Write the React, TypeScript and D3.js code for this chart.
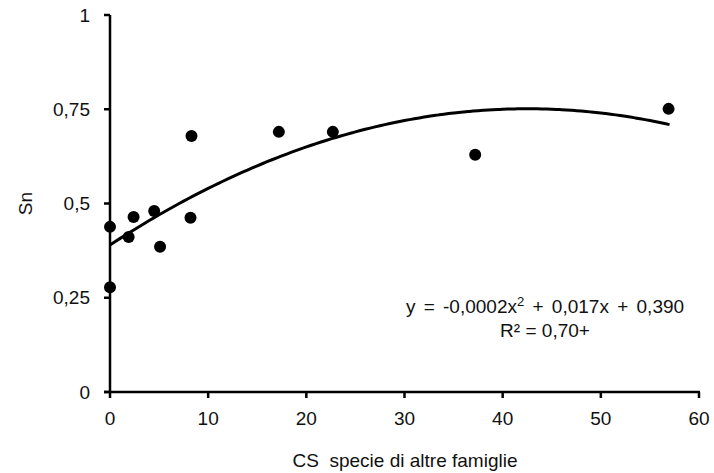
import React from "react";
import * as d3 from "d3";

// CS values (x) and Sn values (y)
const csValues = [0, 0, 1.9, 2.4, 4.5, 5.1, 8.3, 8.2, 17.2, 22.7, 37.2, 56.9];
const snValues = [0.438, 0.278, 0.411, 0.464, 0.48, 0.385, 0.679, 0.462, 0.69, 0.69, 0.629, 0.751];

// polynomial trend coefficients as printed in the chart
const trendCoef = [0.39, 0.017, -0.0002];

const xTicks = [0, 10, 20, 30, 40, 50, 60];
const yTicks = [0, 0.25, 0.5, 0.75, 1];
const yTickLabels = ["0", "0,25", "0,5", "0,75", "1"];

export default function App() {
  const width = 714, height = 473;
  const font = "'Liberation Sans', Arial, sans-serif";

  const x = d3.scaleLinear().domain([0, 60]).range([110, 699]);
  const y = d3.scaleLinear().domain([0, 1]).range([392, 15]);

  const trendX = d3.range(0, 57.01, 0.5);
  const trend = d3.line<number>()
    .x(d => x(d))
    .y(d => y(trendCoef[0] + trendCoef[1] * d + trendCoef[2] * d * d))
    .curve(d3.curveMonotoneX);

  return (
    <svg width={width} height={height}
      style={{ position: "absolute", left: 0, top: 0, background: "#fff" }}
      fontFamily={font} fill="#111">
      {/* axes */}
      <line x1={x(0)} x2={x(0)} y1={y(1)} y2={y(0)} stroke="#000" strokeWidth={2.5} />
      <line x1={x(0) - 6} x2={x(60) + 1} y1={y(0)} y2={y(0)} stroke="#000" strokeWidth={2.5} />
      {yTicks.map((t, i) => (
        <g key={"y" + t}>
          <line x1={x(0) - 6} x2={x(0)} y1={y(t)} y2={y(t)} stroke="#000" strokeWidth={2.5} />
          <text x={x(0) - 20} y={y(t)} dy="0.35em" textAnchor="end" fontSize={19}>{yTickLabels[i]}</text>
        </g>
      ))}
      {xTicks.map(t => (
        <g key={"x" + t}>
          <line x1={x(t)} x2={x(t)} y1={y(0)} y2={y(0) + 6} stroke="#000" strokeWidth={2.5} />
          <text x={x(t)} y={425} textAnchor="middle" fontSize={19}>{t}</text>
        </g>
      ))}

      {/* trend line */}
      <path d={trend(trendX) || ""} fill="none" stroke="#000" strokeWidth={3} />

      {/* points */}
      {csValues.map((v, i) => (
        <circle key={i} cx={x(v)} cy={y(snValues[i])} r={6} fill="#000" />
      ))}

      {/* labels */}
      <text x={405} y={467} textAnchor="middle" fontSize={19} xmlSpace="preserve">CS  specie di altre famiglie</text>
      <text transform={`translate(32,${y(0.5)}) rotate(-90)`} textAnchor="middle" fontSize={19}>Sn</text>

      <text x={545} y={313} textAnchor="middle" fontSize={19} wordSpacing={3} xmlSpace="preserve">
        y = -0,0002x<tspan fontSize={13} dy={-7}>2</tspan><tspan dy={7}> + 0,017x + 0,390</tspan>
      </text>
      <text x={545} y={337} textAnchor="middle" fontSize={19}>R² = 0,70+</text>
    </svg>
  );
}
